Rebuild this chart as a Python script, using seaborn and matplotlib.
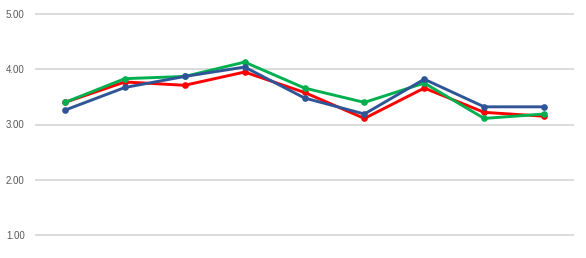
import pandas as pd
import matplotlib
matplotlib.use("Agg")
import matplotlib.pyplot as plt
import seaborn as sns

# values, one point per category
categories = list(range(9))
red_values = [3.40, 3.77, 3.71, 3.95, 3.58, 3.11, 3.66, 3.22, 3.15]
green_values = [3.40, 3.83, 3.87, 4.13, 3.66, 3.40, 3.75, 3.11, 3.19]
blue_values = [3.26, 3.67, 3.87, 4.04, 3.48, 3.19, 3.82, 3.32, 3.32]
y_ticks = [1.0, 2.0, 3.0, 4.0, 5.0]

series_order = ["red", "green", "blue"]
palette = {"red": "#FF0000", "green": "#00B050", "blue": "#2F5597"}

df = pd.concat([
    pd.DataFrame({"x": categories, "y": red_values, "series": "red"}),
    pd.DataFrame({"x": categories, "y": green_values, "series": "green"}),
    pd.DataFrame({"x": categories, "y": blue_values, "series": "blue"}),
])

sns.set_style("white")
plt.rcParams["font.family"] = ["Liberation Sans", "DejaVu Sans"]

fig = plt.figure(figsize=(5.86, 2.58), dpi=100)
ax = fig.add_axes([35 / 586, 12 / 258, 539 / 586, 243 / 258])

sns.lineplot(
    data=df, x="x", y="y", hue="series", hue_order=series_order,
    palette=palette, marker="o", markersize=4.8, markeredgewidth=0,
    linewidth=2.1, legend=False, ax=ax,
)

ax.set_xlim(-0.5, 8.5)
ax.set_ylim(0.8, 5.2)
ax.set_yticks(y_ticks)
ax.set_yticklabels([f"{v:.2f}" for v in y_ticks], fontsize=7, color="#595959")
ax.set_xticks([])
ax.set_xlabel("")
ax.set_ylabel("")
ax.tick_params(axis="y", length=0, pad=7.5)
ax.grid(axis="y", color="#D9D9D9", linewidth=1.3)
ax.set_axisbelow(True)
for spine in ax.spines.values():
    spine.set_visible(False)

fig.savefig("out.png", dpi=100)
